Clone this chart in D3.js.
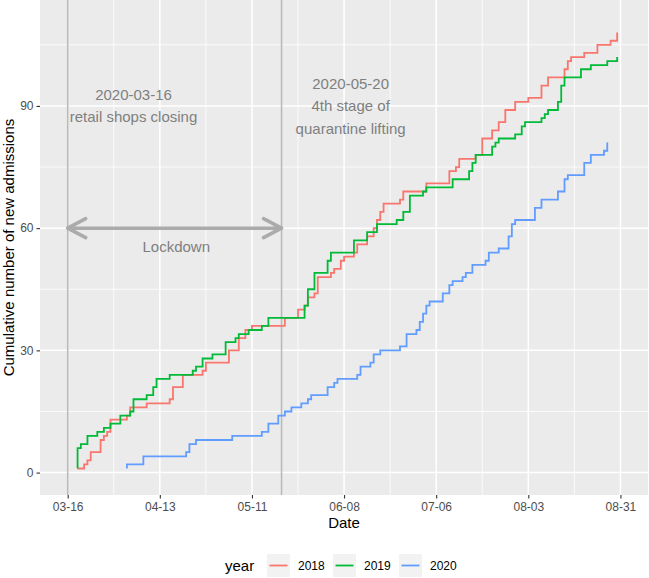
<!DOCTYPE html>
<html>
<head>
<meta charset="utf-8">
<script src="https://cdn.jsdelivr.net/npm/d3@7"></script>
<style>
  body { margin: 0; background: #fff; }
  text { font-family: "Liberation Sans", Arial, sans-serif; }
</style>
</head>
<body>
<svg id="chart" width="649" height="578"></svg>
<script>
// step points: day counted from 03-16, cumulative admissions after that day
const days2018 = [3, 5, 6, 7, 10, 11, 12, 13, 18, 19, 24, 31, 32, 35, 41, 42, 49, 52, 54, 56, 66, 70, 72, 73, 75, 76, 80, 81, 83, 84, 87, 88, 91, 93, 94, 95, 96, 101, 102, 109, 116, 118, 119, 124, 126, 129, 131, 133, 136, 140, 144, 146, 151, 152, 153, 157, 161, 165, 167];
const cum2018 = [1, 2, 3, 5, 8, 9, 10, 13, 14, 16, 17, 18, 21, 24, 25, 27, 30, 33, 35, 36, 38, 40, 41, 43, 44, 48, 49, 50, 52, 53, 54, 56, 58, 60, 62, 64, 66, 67, 69, 71, 74, 75, 77, 78, 82, 84, 86, 89, 91, 92, 95, 97, 99, 101, 102, 103, 105, 106, 108];

const days2019 = [3, 3, 4, 6, 9, 11, 13, 16, 19, 20, 24, 26, 27, 31, 38, 39, 41, 44, 48, 51, 52, 55, 59, 61, 72, 73, 75, 79, 80, 87, 91, 94, 100, 102, 104, 108, 109, 117, 122, 123, 124, 129, 130, 131, 136, 138, 139, 144, 145, 146, 149, 150, 151, 156, 159, 164, 167];
const cum2019 = [1, 6, 7, 9, 10, 11, 12, 14, 15, 18, 19, 21, 23, 24, 25, 26, 28, 29, 32, 33, 34, 35, 36, 38, 41, 45, 49, 52, 54, 57, 59, 61, 62, 64, 68, 69, 70, 72, 74, 76, 78, 80, 81, 82, 83, 85, 86, 87, 88, 89, 91, 95, 97, 99, 100, 101, 102];

const days2020 = [18, 18, 23, 36, 37, 39, 50, 59, 61, 64, 66, 68, 71, 73, 74, 79, 81, 82, 88, 89, 92, 93, 95, 101, 103, 106, 107, 108, 109, 110, 114, 116, 117, 120, 121, 123, 127, 128, 131, 134, 135, 136, 142, 144, 149, 151, 152, 157, 159, 163, 164];
const cum2020 = [1, 2, 4, 5, 7, 8, 9, 10, 12, 14, 15, 16, 17, 18, 19, 21, 22, 23, 24, 26, 27, 29, 30, 31, 34, 35, 37, 39, 41, 42, 44, 46, 47, 48, 49, 51, 52, 54, 55, 58, 61, 62, 65, 67, 69, 72, 73, 76, 78, 79, 81];

const years = ["2018", "2019", "2020"];
const colors = ["#F8766D", "#00BA38", "#619CFF"];
const xTickLabels = ["03-16", "04-13", "05-11", "06-08", "07-06", "08-03", "08-31"];
const yTicks = [0, 30, 60, 90];

const parse = d3.utcParse("%Y-%m-%d");
const start = parse("2020-03-16");
const lockStart = "2020-03-16";
const lockEnd = "2020-05-20";

const series = [
  { year: "2018", days: days2018, cum: cum2018 },
  { year: "2019", days: days2019, cum: cum2019 },
  { year: "2020", days: days2020, cum: cum2020 }
].map(s => ({ year: s.year, points: s.days.map((d, i) => ({ date: d3.utcDay.offset(start, d), value: s.cum[i] })) }));

const svg = d3.select("#chart");
const panel = { left: 40, right: 648, top: 0, bottom: 495 };

const xTicks = xTickLabels.map(s => parse("2020-" + s));
const x = d3.scaleUtc()
  .domain([d3.utcHour.offset(xTicks[0], -8.4 * 24), d3.utcHour.offset(xTicks[xTicks.length - 1], 8.4 * 24)])
  .range([panel.left, panel.right]);
const y = d3.scaleLinear().domain([-5.5, 116]).range([panel.bottom, panel.top]);
const color = d3.scaleOrdinal().domain(years).range(colors);

// panel + grid
svg.append("rect")
  .attr("x", panel.left).attr("y", panel.top)
  .attr("width", panel.right - panel.left).attr("height", panel.bottom - panel.top)
  .attr("fill", "#EBEBEB");

const xMinor = xTicks.map(d => d3.utcDay.offset(d, 14)).filter(d => d < x.domain()[1]);
const yMinor = yTicks.map(v => v + 15);

svg.selectAll(".xminor").data(xMinor).enter().append("line")
  .attr("x1", d => x(d)).attr("x2", d => x(d))
  .attr("y1", panel.top).attr("y2", panel.bottom)
  .attr("stroke", "#fff").attr("stroke-width", 0.8);
svg.selectAll(".yminor").data(yMinor).enter().append("line")
  .attr("y1", d => y(d)).attr("y2", d => y(d))
  .attr("x1", panel.left).attr("x2", panel.right)
  .attr("stroke", "#fff").attr("stroke-width", 0.8);
svg.selectAll(".xmajor").data(xTicks).enter().append("line")
  .attr("x1", d => x(d)).attr("x2", d => x(d))
  .attr("y1", panel.top).attr("y2", panel.bottom)
  .attr("stroke", "#fff").attr("stroke-width", 1.5);
svg.selectAll(".ymajor").data(yTicks).enter().append("line")
  .attr("y1", d => y(d)).attr("y2", d => y(d))
  .attr("x1", panel.left).attr("x2", panel.right)
  .attr("stroke", "#fff").attr("stroke-width", 1.5);

// lockdown annotations
const x0 = x(parse(lockStart)), x1 = x(parse(lockEnd)), ya = y(60);
svg.selectAll(".vline").data([lockStart, lockEnd]).enter().append("line")
  .attr("x1", d => x(parse(d))).attr("x2", d => x(parse(d)))
  .attr("y1", panel.top).attr("y2", panel.bottom)
  .attr("stroke", "#BABABA").attr("stroke-width", 1.6);

svg.append("path")
  .attr("d", `M${x0},${ya}L${x1},${ya}M${x0 + 18},${ya - 9.5}L${x0},${ya}L${x0 + 18},${ya + 9.5}M${x1 - 18},${ya - 9.5}L${x1},${ya}L${x1 - 18},${ya + 9.5}`)
  .attr("fill", "none").attr("stroke", "#ABABAB").attr("stroke-width", 3.5)
  .attr("stroke-linecap", "round").attr("stroke-linejoin", "round");

const notes = [
  { date: "2020-04-05", value: 90, lines: ["2020-03-16", "retail shops closing"] },
  { date: "2020-06-10", value: 90, lines: ["2020-05-20", "4th stage of", "quarantine lifting"] },
  { date: "2020-04-18", value: 55.5, lines: ["Lockdown"] }
];
notes.forEach(n => {
  const t = svg.append("text")
    .attr("x", x(parse(n.date)))
    .attr("y", y(n.value))
    .attr("text-anchor", "middle")
    .attr("font-size", 15)
    .attr("fill", "#7F7F7F");
  n.lines.forEach((l, i) => {
    t.append("tspan")
      .attr("x", x(parse(n.date)))
      .attr("dy", i === 0 ? (0.35 - (n.lines.length - 1) * 0.75) + "em" : "1.5em")
      .text(l);
  });
});

// step lines
const line = d3.line()
  .curve(d3.curveStepAfter)
  .x(d => x(d.date))
  .y(d => y(d.value));

svg.selectAll(".series").data(series).enter().append("path")
  .attr("d", d => line(d.points))
  .attr("fill", "none")
  .attr("stroke", d => color(d.year))
  .attr("stroke-width", 1.8);

// axes
const xAxis = svg.append("g")
  .attr("transform", `translate(0,${panel.bottom})`)
  .call(d3.axisBottom(x).tickValues(xTicks).tickFormat(d3.utcFormat("%m-%d")).tickSize(3.5).tickPadding(3.5));
const yAxis = svg.append("g")
  .attr("transform", `translate(${panel.left},0)`)
  .call(d3.axisLeft(y).tickValues(yTicks).tickSize(3.5).tickPadding(3));
[xAxis, yAxis].forEach(g => {
  g.select(".domain").remove();
  g.selectAll(".tick line").attr("stroke", "#333").attr("stroke-width", 1.1);
  g.selectAll(".tick text").attr("fill", "#4D4D4D").attr("font-size", 12)
    .attr("font-family", "'Liberation Sans', Arial, sans-serif");
});

svg.append("text")
  .attr("x", (panel.left + panel.right) / 2).attr("y", 527.5)
  .attr("text-anchor", "middle").attr("font-size", 15).attr("fill", "#000")
  .text("Date");
svg.append("text")
  .attr("transform", `translate(14,${(panel.top + panel.bottom) / 2}) rotate(-90)`)
  .attr("text-anchor", "middle").attr("font-size", 15).attr("fill", "#000")
  .text("Cumulative number of new admissions");

// legend
const legend = svg.append("g");
legend.append("text")
  .attr("x", 225).attr("y", 570.5)
  .attr("font-size", 15).attr("fill", "#000")
  .text("year");
const item = legend.selectAll(".key").data(years).enter().append("g")
  .attr("transform", (d, i) => `translate(${267 + i * 66},554)`);
item.append("rect")
  .attr("width", 23).attr("height", 23)
  .attr("fill", "#F2F2F2");
item.append("line")
  .attr("x1", 2.5).attr("x2", 20.5).attr("y1", 11.5).attr("y2", 11.5)
  .attr("stroke", d => color(d)).attr("stroke-width", 1.8);
item.append("text")
  .attr("x", 31).attr("y", 16)
  .attr("font-size", 12).attr("fill", "#000")
  .text(d => d);
</script>
</body>
</html>
